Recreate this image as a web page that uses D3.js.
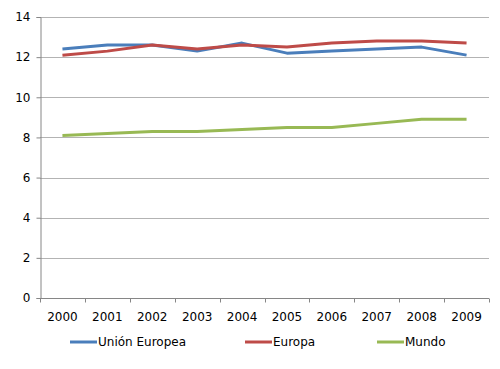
<!DOCTYPE html>
<html>
<head>
<meta charset="utf-8">
<script src="https://cdn.jsdelivr.net/npm/d3@7"></script>
<style>
  body { margin: 0; background: #fff; }
  text { font-family: "DejaVu Sans", Verdana, sans-serif; font-size: 11px; fill: #000; }
</style>
</head>
<body>
<div id="chart"></div>
<script>
var years = ["2000", "2001", "2002", "2003", "2004", "2005", "2006", "2007", "2008", "2009"];
var unionEuropea = [12.4, 12.6, 12.6, 12.3, 12.7, 12.2, 12.3, 12.4, 12.5, 12.1];
var europa = [12.1, 12.3, 12.6, 12.4, 12.6, 12.5, 12.7, 12.8, 12.8, 12.7];
var mundo = [8.1, 8.2, 8.3, 8.3, 8.4, 8.5, 8.5, 8.7, 8.9, 8.9];
var yTicks = [0, 2, 4, 6, 8, 10, 12, 14];
var seriesNames = ["Unión Europea", "Europa", "Mundo"];
var seriesColors = ["#4a7ebb", "#be4b48", "#98b954"];

var width = 500, height = 369;
var margin = {top: 17, right: 11, bottom: 71, left: 40};

var svg = d3.select("#chart").append("svg")
    .attr("width", width)
    .attr("height", height);

var x = d3.scaleBand()
    .domain(years)
    .range([margin.left, width - margin.right]);

var y = d3.scaleLinear()
    .domain([0, 14])
    .range([height - margin.bottom, margin.top]);

// horizontal gridlines
svg.append("g")
    .selectAll("line")
    .data(yTicks.filter(function (d) { return d > 0; }))
    .enter().append("line")
    .attr("x1", margin.left)
    .attr("x2", width - margin.right)
    .attr("y1", function (d) { return Math.round(y(d)) + 0.5; })
    .attr("y2", function (d) { return Math.round(y(d)) + 0.5; })
    .attr("stroke", "#b3b3b3")
    .attr("stroke-width", 1);

// y axis
var yAxis = svg.append("g")
    .attr("transform", "translate(" + (margin.left + 0.5) + ",0)")
    .call(d3.axisLeft(y).tickValues(yTicks).tickSize(4).tickPadding(6).tickFormat(d3.format("d")));
yAxis.select(".domain").attr("stroke", "#868686");
yAxis.selectAll(".tick line").attr("stroke", "#868686");
yAxis.selectAll(".tick text").style("font-size", "12px");

// x axis with ticks at category boundaries
var xAxisG = svg.append("g")
    .attr("transform", "translate(0," + (Math.round(y(0)) + 0.5) + ")");
xAxisG.append("line")
    .attr("x1", margin.left)
    .attr("x2", width - margin.right)
    .attr("stroke", "#868686");
xAxisG.selectAll(".xtick")
    .data(years.concat(["end"]))
    .enter().append("line")
    .attr("class", "xtick")
    .attr("x1", function (d, i) { return Math.round(margin.left + i * x.step()) + 0.5; })
    .attr("x2", function (d, i) { return Math.round(margin.left + i * x.step()) + 0.5; })
    .attr("y1", 0)
    .attr("y2", 4)
    .attr("stroke", "#868686");
xAxisG.selectAll("text")
    .data(years)
    .enter().append("text")
    .attr("x", function (d) { return x(d) + x.bandwidth() / 2; })
    .attr("y", 22)
    .attr("text-anchor", "middle")
    .style("font-size", "12px")
    .text(function (d) { return d; });

// lines
var line = d3.line()
    .x(function (d, i) { return x(years[i]) + x.bandwidth() / 2; })
    .y(function (d) { return y(d); });

var seriesData = [unionEuropea, europa, mundo];
svg.append("g")
    .selectAll("path")
    .data(seriesData)
    .enter().append("path")
    .attr("d", line)
    .attr("fill", "none")
    .attr("stroke", function (d, i) { return seriesColors[i]; })
    .attr("stroke-width", 3)
    .attr("stroke-linejoin", "round");

// legend
var legendX = [70, 245, 377];
var legend = svg.append("g")
    .selectAll("g")
    .data(seriesNames)
    .enter().append("g")
    .attr("transform", function (d, i) { return "translate(" + legendX[i] + ",342)"; });
legend.append("line")
    .attr("x1", 0)
    .attr("x2", 27)
    .attr("stroke", function (d, i) { return seriesColors[i]; })
    .attr("stroke-width", 3);
legend.append("text")
    .attr("x", 28)
    .attr("y", 4)
    .style("font-size", "12px")
    .text(function (d) { return d; });
</script>
</body>
</html>
